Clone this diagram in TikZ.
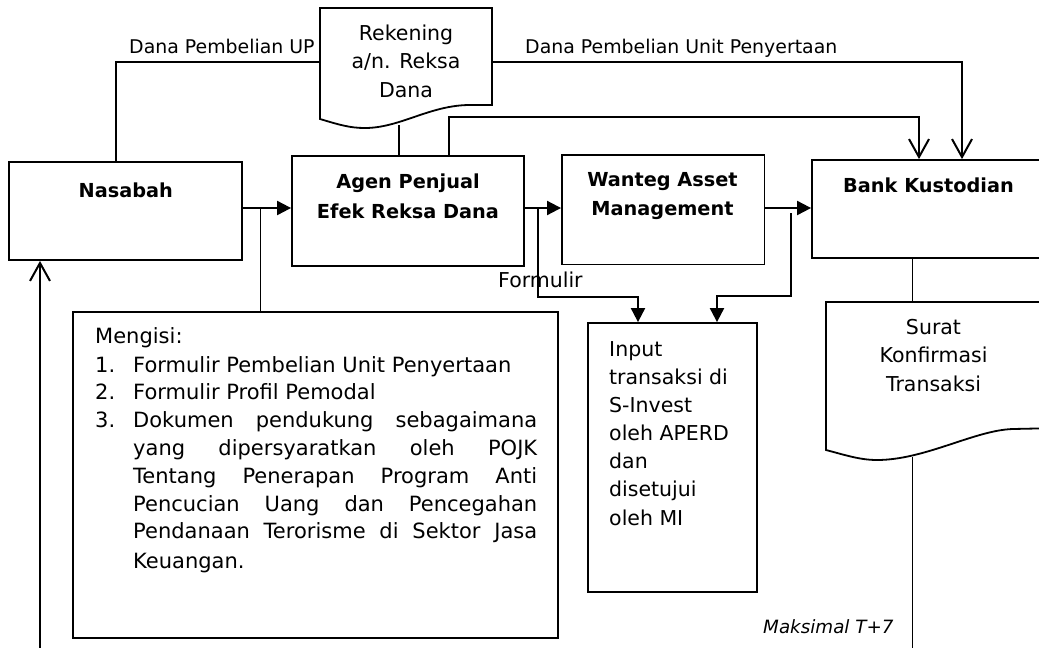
\documentclass[tikz,border=0pt]{standalone}
\usepackage{fontspec}
\setmainfont{DejaVu Sans}
\usetikzlibrary{arrows.meta}
\newcommand\myfL{\fontsize{18.9pt}{22pt}\selectfont}
\newcommand\myfN{\fontsize{20.5pt}{28pt}\selectfont}
\newcommand\myfM{\fontsize{21pt}{28pt}\selectfont}
\newcommand\myfB{\fontsize{19.3pt}{24pt}\selectfont\bfseries}
\newcommand\myfI{\fontsize{18.3pt}{22pt}\selectfont\itshape}
\begin{document}
\begin{tikzpicture}[x=1pt,y=-1pt,
  box/.style={draw,line width=1.8pt,inner sep=0pt},
  ghost/.style={inner sep=0pt,outer sep=0pt},
  thinline/.style={line width=1.4pt},
  fa/.style={line width=2pt,-{Triangle[length=14pt,width=14pt]}},
  oa/.style={line width=1.8pt,-{Straight Barb[length=18pt,width=20pt,line width=2pt]}},
  txt/.style={inner sep=0pt,anchor=base},
  txtl/.style={inner sep=0pt,anchor=base west}]
\clip (0,0) rectangle (1039,648);
\fill[white] (0,0) rectangle (1039,648);

% boxes
\node[box,minimum width=233pt,minimum height=98pt] (nas) at (125.8,211) {};
\node[box,minimum width=232pt,minimum height=110pt] (agen) at (408,211) {};
\node[box,minimum width=202.5pt,minimum height=109.5pt] (want) at (663.2,209.8) {};
\node[box,minimum width=248pt,minimum height=98pt] (bank) at (936,209) {};
\node[box,minimum width=485pt,minimum height=326pt] (meng) at (315.5,475) {};
\node[box,minimum width=169pt,minimum height=269pt] (inp) at (672.5,457.5) {};

% document shapes
\node[ghost,minimum width=172pt,minimum height=111pt] (rek) at (406,63.5) {};
\draw[line width=1.8pt] (rek.north west) -- (rek.north east) -- (492,105) -- (470,105)
  .. controls (430,105) and (400,128) .. (365,128)
  .. controls (350,128) and (340,125) .. (rek.south west) -- cycle;
\node[ghost,minimum width=234pt,minimum height=148pt] (sur) at (943,376) {};
\draw[line width=1.8pt] (sur.north west) -- (sur.north east) -- (1060,428) -- (1013,429)
  .. controls (975,430) and (925,460) .. (877,460)
  .. controls (860,460) and (845,455) .. (sur.south west) -- cycle;

% connectors
\coordinate (k1) at (116,62);
\draw[thinline] (k1 |- nas.north) -- (k1) -- (k1 -| rek.west);
\coordinate (k2) at (962,62);
\draw[oa] (rek.east |- k2) -- (k2) -- (k2 |- bank.north);
\coordinate (k3) at (399,125);
\draw[thinline] (k3) -- (k3 |- agen.north);
\coordinate (k4a) at (449,117);
\coordinate (k4) at (919,117);
\draw[oa] (k4a |- agen.north) -- (k4a) -- (k4) -- (k4 |- bank.north);

\coordinate (y1) at (0,208);
\draw[fa] (nas.east |- y1) -- (agen.west |- y1);
\coordinate (k5) at (260.7,208);
\draw[thinline] (k5) -- (k5 |- meng.north);
\draw[fa] (agen.east |- y1) -- (want.west |- y1);
\coordinate (k6) at (538,208);
\coordinate (k6b) at (638,297);
\draw[fa] (k6) |- (k6b) -- (k6b |- inp.north);
\draw[fa] (want.east |- y1) -- (bank.west |- y1);
\coordinate (k7) at (790.7,213);
\coordinate (k7b) at (717,295.5);
\draw[fa] (k7) |- (k7b) -- (k7b |- inp.north);
\coordinate (k8) at (912.7,0);
\draw[thinline] (k8 |- bank.south) -- (k8 |- sur.north);
\coordinate (k9) at (912.7,457);
\coordinate (k9b) at (912.7,650);
\draw[thinline] (k9) -- (k9b);
\coordinate (k10) at (40,650);
\draw[oa] (k10) -- (k10 |- nas.south);

% labels
\node[txtl] (l1) at (129,53) {\myfL Dana Pembelian UP};
\node[txtl] (l2) at (525,53) {\myfL Dana Pembelian Unit Penyertaan};
\node[txtl] (l3) at (498,287) {\myfN Formulir};
\node[txtl] (l4) at (763,633) {\myfI Maksimal T+7};

\node[txt] (tn) at (125.8,197) {\myfB Nasabah};
\node[txt] (ta1) at (408,188) {\myfB Agen Penjual};
\node[txt] (ta2) at (408,218) {\myfB Efek Reksa Dana};
\node[txt] (tw1) at (662.5,186) {\myfB Wanteg Asset};
\node[txt] (tw2) at (662.5,215) {\myfB Management};
\node[txt] (tb) at (928.5,192) {\myfB Bank Kustodian};

\node[txt] (tr1) at (406,40) {\myfN Rekening};
\node[txt] (tr2) at (406,68) {\myfN a/n. Reksa};
\node[txt] (tr3) at (406,97) {\myfN Dana};

\node[txt] (ts1) at (933.5,334) {\myfN Surat};
\node[txt] (ts2) at (933.5,362) {\myfN Konfirmasi};
\node[txt] (ts3) at (933.5,391) {\myfN Transaksi};

\node[txtl] (ti1) at (609,356) {\myfN Input};
\node[txtl] (ti2) at (609,384) {\myfN transaksi di};
\node[txtl] (ti3) at (609,412) {\myfN S-Invest};
\node[txtl] (ti4) at (609,440) {\myfN oleh APERD};
\node[txtl] (ti5) at (609,468) {\myfN dan};
\node[txtl] (ti6) at (609,496) {\myfN disetujui};
\node[txtl] (ti7) at (609,525) {\myfN oleh MI};

\node[txtl] (tm0) at (95,343) {\myfM Mengisi:};
\node[txtl] (tm1n) at (95,372) {\myfM 1.};
\node[txtl] (tm1) at (133,372) {\myfM Formulir Pembelian Unit Penyertaan};
\node[txtl] (tm2n) at (95,399) {\myfM 2.};
\node[txtl] (tm2) at (133,399) {\myfM Formulir Profil Pemodal};
\node[txtl] (tm3n) at (95,427) {\myfM 3.};
\node[txtl] (tm3) at (133,427) {\myfM \makebox[404pt][s]{Dokumen pendukung sebagaimana}};
\node[txtl] (tm4) at (133,455) {\myfM \makebox[404pt][s]{yang dipersyaratkan oleh POJK}};
\node[txtl] (tm5) at (133,483) {\myfM \makebox[404pt][s]{Tentang Penerapan Program Anti}};
\node[txtl] (tm6) at (133,511) {\myfM \makebox[404pt][s]{Pencucian Uang dan Pencegahan}};
\node[txtl] (tm7) at (133,538) {\myfM \makebox[404pt][s]{Pendanaan Terorisme di Sektor Jasa}};
\node[txtl] (tm8) at (133,568) {\myfM Keuangan.};
\end{tikzpicture}
\end{document}
